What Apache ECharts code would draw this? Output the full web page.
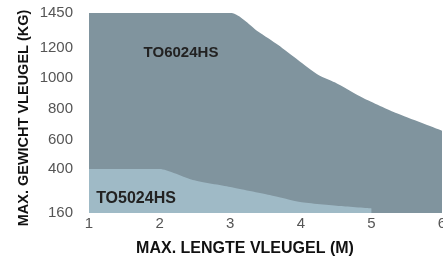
<!DOCTYPE html>
<html>
<head>
<meta charset="utf-8">
<script src="https://cdn.jsdelivr.net/npm/echarts@6/dist/echarts.min.js"></script>
<style>html,body{margin:0;padding:0;background:#fff}#c{width:443px;height:257px}</style>
</head>
<body>
<div id="c"></div>
<script>
// y-axis tick labels (kg) and their slot on the (non-uniform) printed scale
const yTicks = [160, 400, 600, 800, 1000, 1200, 1450];
const yTickSlot = [0, 44, 73, 104, 135, 165, 200];
const xTicks = [1, 2, 3, 4, 5, 6];

// TO6024HS
const to6024X = [1, 3.02, 3.4, 3.68, 3.96, 4.25, 4.48, 4.89, 5.36, 6];
const to6024Kg = [1450, 1450, 1316, 1221, 1120, 1020, 972, 869, 772, 660];
// TO5024HS
const to5024X = [1, 2, 2.47, 3, 3.56, 3.99, 4.56, 5];
const to5024Kg = [400, 400, 340, 302, 258, 220, 198, 185];

// printed axis scale: piecewise linear between labelled ticks
function scaleKg(kg) {
  for (let i = 0; i < yTicks.length - 1; i++) {
    if (kg <= yTicks[i + 1]) {
      const f = (kg - yTicks[i]) / (yTicks[i + 1] - yTicks[i]);
      return yTickSlot[i] + f * (yTickSlot[i + 1] - yTickSlot[i]);
    }
  }
  return yTickSlot[yTickSlot.length - 1];
}
const pairs = (xs, ys) => xs.map((x, i) => [x, scaleKg(ys[i])]);

const chart = echarts.init(document.getElementById('c'), null, {renderer: 'canvas'});
const font = '"Liberation Sans", Arial, sans-serif';
chart.setOption({
  animation: false,
  grid: {left: 89, right: 1, top: 13, bottom: 44, containLabel: false, outerBoundsMode: 'none'},
  xAxis: {
    type: 'value', min: 1, max: 6, interval: 1,
    axisLine: {show: false}, axisTick: {show: false}, splitLine: {show: false},
    axisLabel: {color: '#555', fontSize: 15, fontFamily: font, margin: 3,
      customValues: xTicks, formatter: v => String(v)}
  },
  yAxis: {
    type: 'value', min: 0, max: 200,
    axisLine: {show: false}, axisTick: {show: false}, splitLine: {show: false},
    axisLabel: {color: '#555', fontSize: 15, fontFamily: font, margin: 16,
      customValues: yTickSlot,
      formatter: v => String(yTicks[yTickSlot.indexOf(v)])}
  },
  series: [
    {type: 'line', name: 'TO6024HS', data: pairs(to6024X, to6024Kg), smooth: 0.2,
      symbol: 'none', lineStyle: {width: 0}, areaStyle: {color: '#80949e', opacity: 1}, z: 1},
    {type: 'line', name: 'TO5024HS', data: pairs(to5024X, to5024Kg), smooth: 0.2,
      symbol: 'none', lineStyle: {width: 0}, areaStyle: {color: '#9fbac6', opacity: 1}, z: 2}
  ],
  graphic: [
    {type: 'text', x: 181, y: 53, z: 10, style: {text: 'TO6024HS', fill: '#222', font: 'bold 15px ' + font, textAlign: 'center', textVerticalAlign: 'middle'}},
    {type: 'text', x: 136, y: 199, z: 10, style: {text: 'TO5024HS', fill: '#222', font: 'bold 16px ' + font, textAlign: 'center', textVerticalAlign: 'middle'}},
    {type: 'text', x: 245, y: 249, z: 10, style: {text: 'MAX. LENGTE VLEUGEL (M)', fill: '#111', font: 'bold 16px ' + font, textAlign: 'center', textVerticalAlign: 'middle'}},
    {type: 'text', x: 24, y: 118, rotation: Math.PI / 2, z: 10, style: {text: 'MAX. GEWICHT VLEUGEL (KG)', fill: '#111', font: 'bold 14.5px ' + font, textAlign: 'center', textVerticalAlign: 'middle'}}
  ]
});
</script>
</body>
</html>
